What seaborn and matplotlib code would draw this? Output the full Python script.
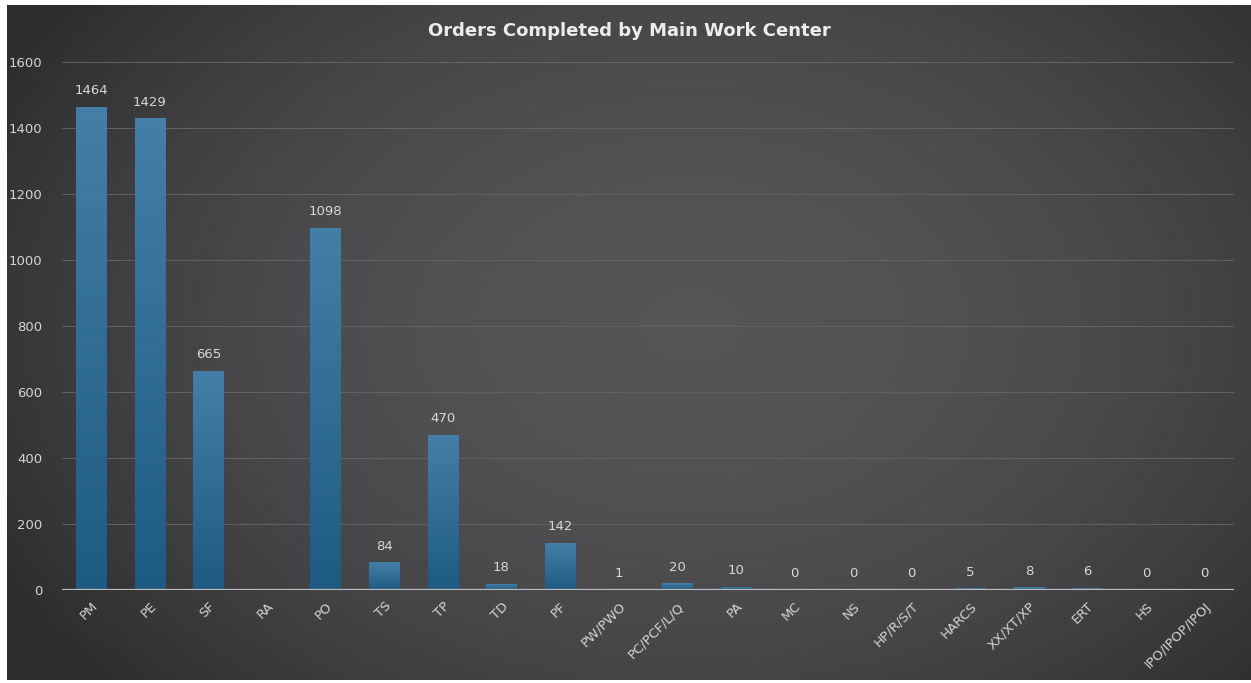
import numpy as np
import pandas as pd
import matplotlib
matplotlib.use("Agg")
import matplotlib.pyplot as plt
from matplotlib.colors import LinearSegmentedColormap
import seaborn as sns

# Work centers and completed order counts (RA has no recorded value)
work_centers = ["PM", "PE", "SF", "RA", "PO", "TS", "TP", "TD", "PF", "PW/PWO",
                "PC/PCF/L/Q", "PA", "MC", "NS", "HP/R/S/T", "HARCS", "XX/XT/XP",
                "ERT", "HS", "IPO/IPOP/IPOJ"]
orders_completed = [1464, 1429, 665, np.nan, 1098, 84, 470, 18, 142, 1,
                    20, 10, 0, 0, 0, 5, 8, 6, 0, 0]
y_ticks = [0, 200, 400, 600, 800, 1000, 1200, 1400, 1600]
title = "Orders Completed by Main Work Center"

df = pd.DataFrame({"center": work_centers, "orders": orders_completed})

sns.set_theme(style="dark")
plt.rcParams["font.family"] = ["DejaVu Sans"]

W, H = 1251, 683
fig = plt.figure(figsize=(W / 100, H / 100), dpi=100)
fig.patch.set_facecolor("white")

# Dark panel with a broad, soft glow toward the middle
bg = fig.add_axes([7 / W, 3 / H, 1 - 7 / W, 1 - 8 / H])
bg.set_axis_off()
gx, gy = np.meshgrid(np.linspace(-1, 1, 400), np.linspace(-1, 1, 220))
r = np.sqrt(((gx - 0.1) / 1.25) ** 2 + ((gy + 0.05) / 1.6) ** 2)
glow = np.clip(1 - r ** 2, 0, 1)
bg_cmap = LinearSegmentedColormap.from_list("panel", ["#2e2e30", "#555557"])
bg.imshow(glow, cmap=bg_cmap, aspect="auto", extent=(0, 1, 0, 1), vmin=0, vmax=1)
bg.set_xlim(0, 1)
bg.set_ylim(0, 1)

ax = fig.add_axes([62 / W, 1 - 590 / H, (1234 - 62) / W, (590 - 62) / H])
ax.set_facecolor("none")

sns.barplot(data=df, x="center", y="orders", color="#2f6f98", width=0.52,
            linewidth=0, edgecolor="none", ax=ax, zorder=3)

# Vertical gradient fill inside each bar
bar_cmap = LinearSegmentedColormap.from_list("bar", ["#1e5b82", "#437fa6"])
grad = np.linspace(0, 1, 256).reshape(-1, 1)
for patch in ax.patches:
    h = patch.get_height()
    if not np.isfinite(h) or h <= 0:
        continue
    x0 = patch.get_x()
    w = patch.get_width()
    im = ax.imshow(grad, cmap=bar_cmap, origin="lower", aspect="auto",
                   extent=(x0, x0 + w, 0, h), zorder=3.5)
    im.set_clip_path(patch)

ax.set_xlim(-0.5, len(work_centers) - 0.5)
ax.set_ylim(0, 1600)
ax.set_yticks(y_ticks)
ax.set_yticklabels([str(t) for t in y_ticks])
ax.grid(axis="y", color="#636365", linewidth=0.7, zorder=0)
ax.grid(axis="x", visible=False)
for s in ax.spines.values():
    s.set_visible(False)
ax.axhline(0, color="#bdbdbd", linewidth=1.6, zorder=4)

ax.set_xlabel("")
ax.set_ylabel("")
ax.tick_params(axis="y", colors="#d4d4d4", labelsize=9.5, length=0, pad=14)
ax.tick_params(axis="x", colors="#d4d4d4", labelsize=9.5, length=0, pad=7)
for lab in ax.get_xticklabels():
    lab.set_rotation(45)
    lab.set_ha("right")
    lab.set_va("top")
    lab.set_rotation_mode("anchor")

# Value labels above bars
for i, v in enumerate(orders_completed):
    if not np.isfinite(v):
        continue
    ax.annotate(f"{int(v)}", (i, v), xytext=(0, 7), textcoords="offset points",
                ha="center", va="bottom", color="#d8d8d8", fontsize=9.5, zorder=5)

fig.text(0.503, 1 - 31 / H, title, ha="center", va="center", color="#ececec",
         fontsize=13, fontweight="bold")

fig.savefig("out.png", dpi=100, facecolor=fig.get_facecolor())
